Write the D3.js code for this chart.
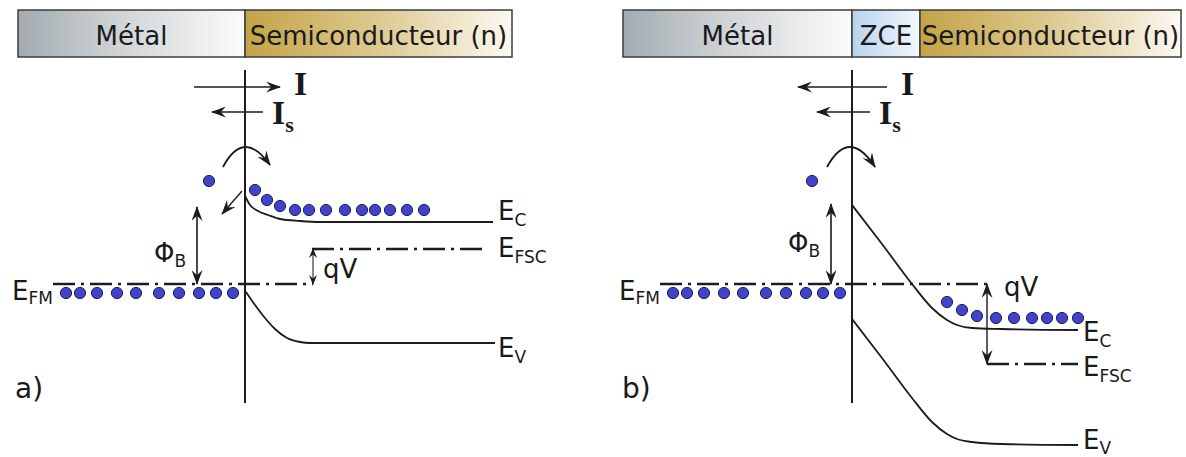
<!DOCTYPE html>
<html><head><meta charset="utf-8">
<script src="https://cdn.jsdelivr.net/npm/d3@7"></script>
<style>body{margin:0;background:#fff} svg{display:block}</style>
</head><body>
<svg id="c" width="1186" height="457"></svg>
<script>
// ---------- DATA (position relative to interface, energy in eV relative to E_FM) ----------
const panelLabels = ["a)", "b)"];
const headerA = [{label:"Métal", from:-227, to:0, kind:"metal"},
                 {label:"Semiconducteur (n)", from:0, to:267, kind:"sc"}];
const headerB = [{label:"Métal", from:-229, to:0, kind:"metal"},
                 {label:"ZCE", from:0, to:68, kind:"zce"},
                 {label:"Semiconducteur (n)", from:68, to:329, kind:"sc"}];

// conduction / valence band edges
const ecA = [[0,0.88],[5,0.79],[13,0.73],[23,0.69],[35,0.65],[55,0.63],[75,0.62],[248,0.62]];
const evA = [[1,-0.08],[10,-0.21],[20,-0.34],[30,-0.45],[42,-0.54],[55,-0.58],[65,-0.59],[250,-0.59]];
const ecB = [[0,0.79],[30,0.40],[60,0.0],[80,-0.24],[95,-0.36],[105,-0.41],[120,-0.44],[150,-0.45],[226,-0.46]];
const evB = [[0,-0.35],[30,-0.74],[60,-1.14],[80,-1.38],[95,-1.50],[105,-1.55],[120,-1.58],[150,-1.60],[226,-1.61]];

// Fermi levels [from, to, energy]
const efmA = [-192, 68, 0];
const efscA = [67, 243, 0.35];
const efmB = [-192, 135, 0];
const efscB = [135, 226, -0.80];

// electrons [position, energy]
const metalElectrons = [[-179,-0.09],[-165,-0.09],[-148,-0.09],[-128,-0.09],[-109,-0.09],
                        [-86,-0.09],[-66,-0.09],[-46,-0.09],[-29,-0.09],[-12,-0.09]];
const scElectronsA = [[10,0.94],[22,0.84],[35,0.78],[50,0.74],[64,0.74],[81,0.74],
                      [100,0.74],[117,0.74],[130,0.74],[145,0.74],[162,0.74],[179,0.74]];
const scElectronsB = [[95,-0.18],[110,-0.26],[125,-0.32],[144,-0.34],[162,-0.34],
                      [180,-0.34],[195,-0.34],[210,-0.34],[226,-0.34]];
const loneElectronA = [[-36,1.03]];
const loneElectronB = [[-40,1.03]];

// arrows
const phiArrowA = [-48, 0, 0.77];     // position, from E, to E
const phiArrowB = [-21, 0, 0.80];
const qvArrowA = [68, 0, 0.35];
const qvArrowB = [135, 0, -0.80];
const currentA = {I:[-51, 35, 1.97], Is:[18, -33, 1.72]};   // from, to, level
const currentB = {I:[35, -54, 1.97], Is:[18, -35, 1.72]};
const hopA = [[-22,1.17],[0,1.37],[25,1.19]];   // start, apex, end
const hopB = [[-25,1.17],[-2,1.37],[23,1.17]];
const emitA = [[-3,0.93],[-23,0.70]];
const interfaceLine = [2.14, -1.19];

// ---------- DRAWING ----------
const svg = d3.select("#c");
const y = d3.scaleLinear().domain([0, 1]).range([284, 184]);
const xA = d3.scaleLinear().domain([0, 1]).range([245, 246]);
const xB = d3.scaleLinear().domain([0, 1]).range([852, 853]);
const INK = "#1c1c1c";
const FONT = "DejaVu Sans";

const defs = svg.append("defs");
function grad(id, stops){
  const g = defs.append("linearGradient").attr("id", id).attr("x1","0").attr("x2","1").attr("y1","0").attr("y2","0");
  stops.forEach(s => g.append("stop").attr("offset", s[0]).attr("stop-color", s[1]));
}
grad("g-metal", [[0,"#a3abb0"],[0.45,"#d0d4d7"],[1,"#fbfbfb"]]);
grad("g-sc", [[0,"#c4a448"],[0.5,"#ddc98f"],[1,"#fbf9f2"]]);
grad("g-zce", [[0,"#b9d3ee"],[1,"#f3f8fd"]]);

function marker(id, len, half){
  defs.append("marker").attr("id", id)
    .attr("viewBox", `${-len} ${-half} ${len+2} ${half*2}`)
    .attr("refX", 0).attr("refY", 0)
    .attr("markerUnits", "userSpaceOnUse")
    .attr("markerWidth", len+2).attr("markerHeight", half*2)
    .attr("orient", "auto-start-reverse")
    .append("path")
    .attr("d", `M1,0 L${-len},${-half} L${-len*0.62},0 L${-len},${half} Z`)
    .attr("fill", INK);
}
marker("arr", 14, 5.5);
marker("arrS", 9, 4);

const line = d3.line().curve(d3.curveMonotoneX);

function drawPanel(x, header, ec, ev, efm, efsc, scEl, lone, phi, qv, cur, hop, emit, pl, lbl){
  const g = svg.append("g");
  // header boxes
  const hb = g.append("g");
  hb.selectAll("rect").data(header).join("rect")
    .attr("x", d => x(d.from)).attr("y", 10)
    .attr("width", d => x(d.to) - x(d.from)).attr("height", 47)
    .attr("fill", d => `url(#g-${d.kind})`)
    .attr("stroke", "#3c3c3c").attr("stroke-width", 1.5);
  hb.selectAll("text").data(header).join("text")
    .attr("x", d => (x(d.from) + x(d.to)) / 2).attr("y", 45)
    .attr("text-anchor", "middle").attr("font-family", FONT).attr("font-size", 26)
    .attr("fill", "#1a1a1a").text(d => d.label);

  // interface line
  g.append("line").attr("x1", x(0)).attr("x2", x(0))
    .attr("y1", y(interfaceLine[0])).attr("y2", y(interfaceLine[1]))
    .attr("stroke", INK).attr("stroke-width", 2);

  // bands
  [ec, ev].forEach(b => g.append("path")
    .attr("d", line(b.map(p => [x(p[0]), y(p[1])])))
    .attr("fill", "none").attr("stroke", INK).attr("stroke-width", 1.8));

  // Fermi levels
  [efm, efsc].forEach(f => g.append("line")
    .attr("x1", x(f[0])).attr("x2", x(f[1])).attr("y1", y(f[2])).attr("y2", y(f[2]))
    .attr("stroke", INK).attr("stroke-width", 2.4).attr("stroke-dasharray", "22,6,3,6"));

  // double arrows
  g.append("line").attr("x1", x(phi[0])).attr("x2", x(phi[0]))
    .attr("y1", y(phi[1])).attr("y2", y(phi[2]))
    .attr("stroke", INK).attr("stroke-width", 1.6)
    .attr("marker-start", "url(#arr)").attr("marker-end", "url(#arr)");
  g.append("line").attr("x1", x(qv[0])).attr("x2", x(qv[0]))
    .attr("y1", y(qv[1])).attr("y2", y(qv[2]))
    .attr("stroke", lbl === "a" ? "#555" : INK).attr("stroke-width", 1.4)
    .attr("marker-start", `url(#${lbl === "a" ? "arrS" : "arr"})`)
    .attr("marker-end", `url(#${lbl === "a" ? "arrS" : "arr"})`);

  // current arrows
  [cur.I, cur.Is].forEach(c => g.append("line")
    .attr("x1", x(c[0])).attr("x2", x(c[1])).attr("y1", y(c[2])).attr("y2", y(c[2]))
    .attr("stroke", INK).attr("stroke-width", 1.6).attr("marker-end", "url(#arr)"));

  // thermionic hop arrow
  const cx = 2 * x(hop[1][0]) - 0.5 * (x(hop[0][0]) + x(hop[2][0]));
  const cy = 2 * y(hop[1][1]) - 0.5 * (y(hop[0][1]) + y(hop[2][1]));
  const p = d3.path();
  p.moveTo(x(hop[0][0]), y(hop[0][1]));
  p.quadraticCurveTo(cx, cy, x(hop[2][0]), y(hop[2][1]));
  g.append("path").attr("d", p.toString()).attr("fill", "none")
    .attr("stroke", INK).attr("stroke-width", 1.8).attr("marker-end", "url(#arr)");

  if (emit) {
    g.append("line").attr("x1", x(emit[0][0])).attr("y1", y(emit[0][1]))
      .attr("x2", x(emit[1][0])).attr("y2", y(emit[1][1]))
      .attr("stroke", INK).attr("stroke-width", 1.4).attr("marker-end", "url(#arr)");
  }

  // electrons
  g.selectAll("circle").data(metalElectrons.concat(scEl, lone)).join("circle")
    .attr("cx", d => x(d[0])).attr("cy", d => y(d[1])).attr("r", 5.6)
    .attr("fill", "#4343c9").attr("stroke", "#1d1d66").attr("stroke-width", 1);

  // labels
  function sub(xp, yp, main, s, size, subSize, dy, family, weight) {
    const t = g.append("text").attr("x", xp).attr("y", yp)
      .attr("font-family", family || FONT).attr("font-size", size).attr("fill", "#1a1a1a")
      .attr("font-weight", weight || "normal");
    t.append("tspan").text(main);
    if (s) t.append("tspan").attr("font-size", subSize).attr("dy", dy).text(s);
    return t;
  }
  const xr = x(ec[ec.length - 1][0]) + 5;
  sub(xr, y(ec[ec.length - 1][1]) + (lbl === "a" ? -2 : 11), "E", "C", 26, 17, 6);
  sub(xr, y(efsc[2]) + (lbl === "a" ? 8 : 12), "E", "FSC", 26, 17, 6);
  sub(xr, y(ev[ev.length - 1][1]) + (lbl === "a" ? 14 : 4), "E", "V", 26, 17, lbl === "a" ? 6 : 5);
  sub(x(efm[0]) - 41, y(efm[2]) + 16, "E", "FM", 26, 17, 4);
  sub(x(phi[0]) - 43, y(phi[2]) + (lbl === "a" ? 55 : 48), "Φ", "B", 26, 17, 5);
  sub(x(qv[0]) + (lbl === "a" ? 10 : 17), lbl === "a" ? y(qv[2]) + 29 : y(qv[1]) + 12, "qV", null, 26);
  sub(x(Math.max(cur.I[0], cur.I[1])) + 14, y(cur.I[2]) + 8, "I", null, 34, 0, 0, "Liberation Serif", "600");
  sub(x(Math.max(cur.Is[0], cur.Is[1])) + 9, y(cur.Is[2]) + 12, "I", "s", 34, 22, 8, "Liberation Serif", "600");
  g.append("text").attr("x", x(efm[0]) - 38).attr("y", 398)
    .attr("font-family", FONT).attr("font-size", 28).attr("fill", "#1a1a1a").text(pl);
}

drawPanel(xA, headerA, ecA, evA, efmA, efscA, scElectronsA, loneElectronA,
          phiArrowA, qvArrowA, currentA, hopA, emitA, panelLabels[0], "a");
drawPanel(xB, headerB, ecB, evB, efmB, efscB, scElectronsB, loneElectronB,
          phiArrowB, qvArrowB, currentB, hopB, null, panelLabels[1], "b");
</script>
</body></html>
